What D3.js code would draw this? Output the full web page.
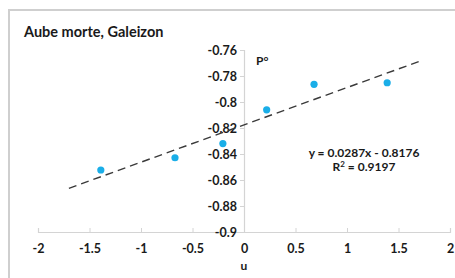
<!DOCTYPE html>
<html>
<head>
<meta charset="utf-8">
<script src="https://cdn.jsdelivr.net/npm/d3@7"></script>
<style>
  body { margin: 0; background: #fff; }
  text { font-family: Lato, "Open Sans", sans-serif; font-weight: bold; fill: #1a1a1a; }
</style>
</head>
<body>
<svg id="chart"></svg>
<script>
// data
let uVals = [-1.39, -0.67, -0.205, 0.22, 0.68, 1.39];
let pVals = [-0.8523, -0.8429, -0.832, -0.806, -0.7864, -0.7852];
let xTicks = [-2, -1.5, -1, -0.5, 0, 0.5, 1, 1.5, 2];
let yTicks = [-0.76, -0.78, -0.8, -0.82, -0.84, -0.86, -0.88, -0.9];
let trendSlope = 0.0287;
let trendIntercept = -0.8176;
let trendRange = [-1.7, 1.7];

let widthSVG = 455;
let heightSVG = 278;

let SVG = d3.select('svg#chart')
            .attr('width', widthSVG)
            .attr('height', heightSVG);

// outer frame
SVG.append('rect')
   .attr('x', 9).attr('y', 10)
   .attr('width', 460).attr('height', 280)
   .style('fill', 'none')
   .style('stroke', '#cfcfcf')
   .style('stroke-width', 2);

// title
SVG.append('text')
   .text('Aube morte, Galeizon')
   .attr('x', 24).attr('y', 37)
   .style('font-size', '14.5px');

// scales
let x = d3.scaleLinear().domain([-2, 2]).range([38, 450]);
let y = d3.scaleLinear().domain([-0.9, -0.76]).range([232, 50]);

// x axis (at y = -0.9)
let xAxis = d3.axisBottom(x)
              .tickValues(xTicks)
              .tickSize(-4)
              .tickPadding(12)
              .tickFormat(d => d);
let gx = SVG.append('g')
            .attr('transform', `translate(0, ${y(-0.9)})`)
            .call(xAxis);

// y axis (at x = 0)
let yAxis = d3.axisLeft(y)
              .tickValues(yTicks)
              .tickSize(4)
              .tickPadding(3)
              .tickFormat(d => d);
let gy = SVG.append('g')
            .attr('transform', `translate(${x(0)}, 0)`)
            .call(yAxis);

[gx, gy].forEach(g => {
  g.select('.domain').style('stroke', '#d4d4d4').style('stroke-width', 1.2);
  g.selectAll('.tick line').style('stroke', '#d4d4d4');
  g.selectAll('.tick text')
   .style('font-size', '12.5px')
   .style('font-family', 'Lato, "Open Sans", sans-serif')
   .style('font-weight', 'bold')
   .style('fill', '#1a1a1a');
});
gx.selectAll('.tick text').attr('dy', '0.71em');
gy.selectAll('.tick text').attr('dy', '0.35em');

// trend line
SVG.append('line')
   .attr('x1', x(trendRange[0]))
   .attr('y1', y(trendSlope * trendRange[0] + trendIntercept))
   .attr('x2', x(trendRange[1]))
   .attr('y2', y(trendSlope * trendRange[1] + trendIntercept))
   .style('stroke', '#3a3a3a')
   .style('stroke-width', 1.4)
   .style('stroke-dasharray', '8,5');

// points
SVG.selectAll('circle.pt')
   .data(uVals)
   .enter()
   .append('circle')
   .classed('pt', true)
   .attr('cx', d => x(d))
   .attr('cy', (d, i) => y(pVals[i]))
   .attr('r', 3.6)
   .style('fill', '#1aaee8');

// labels
SVG.append('text')
   .text('P°')
   .attr('x', 256).attr('y', 65)
   .style('font-size', '12px');

SVG.append('text')
   .text('y = 0.0287x - 0.8176')
   .attr('x', 364).attr('y', 157)
   .style('text-anchor', 'middle')
   .style('font-size', '12px');

SVG.append('text')
   .attr('x', 364).attr('y', 171)
   .style('text-anchor', 'middle')
   .style('font-size', '12px')
   .html('R<tspan dy="-4" font-size="8px">2</tspan><tspan dy="4"> = 0.9197</tspan>');

SVG.append('text')
   .text('u')
   .attr('x', x(0)).attr('y', 270)
   .style('text-anchor', 'middle')
   .style('font-size', '12px');
</script>
</body>
</html>
